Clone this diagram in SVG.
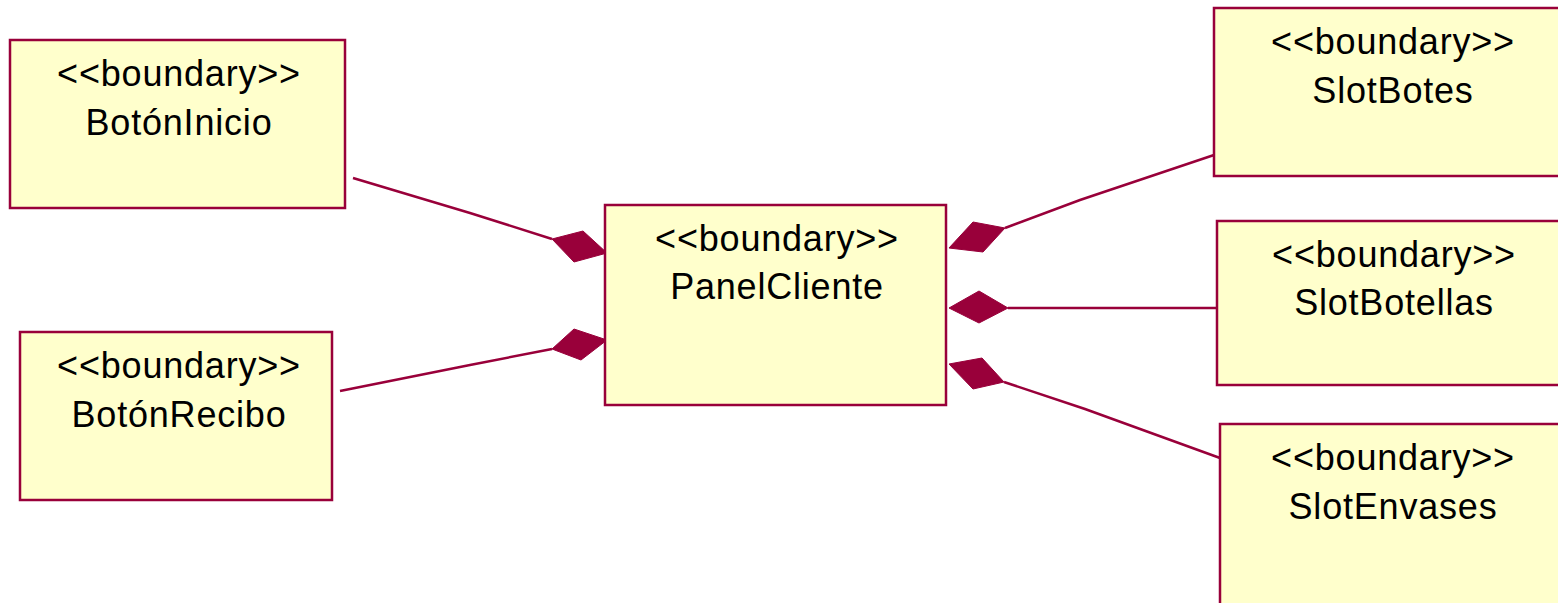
<svg xmlns="http://www.w3.org/2000/svg" width="1558" height="603" viewBox="0 0 1558 603">
<style>
.box{fill:#FFFFCC;stroke:#99003A;stroke-width:2.5}
.t{font-family:"Liberation Sans",Arial,sans-serif;font-size:36px;letter-spacing:0.8px;fill:#000;text-anchor:middle}
.ln{fill:none;stroke:#99003A;stroke-width:2.5}
.dm{fill:#99003A;stroke:#99003A;stroke-width:1}
</style>
<rect width="1558" height="603" fill="#fff"/>
<g id="connectors">
<polyline class="ln" points="353,178 470,213 552,239"/>
<polygon class="dm" points="552,239 583,231 607,253 574,262"/>
<polyline class="ln" points="340,391 470,365 552,349"/>
<polygon class="dm" points="552,349 574,329 607,340 581,360"/>
<polyline class="ln" points="1005,228 1080,200 1214,155"/>
<polygon class="dm" points="949,248 973,222 1005,228 983,252"/>
<polyline class="ln" points="1008,308 1217,308"/>
<polygon class="dm" points="949,308 979,291 1008,308 979,323"/>
<polyline class="ln" points="1004,382 1085,409 1220,458"/>
<polygon class="dm" points="949,364 982,358 1004,382 973,389"/>
</g>
<g id="BotonInicio">
<rect class="box" x="10" y="40" width="335" height="168"/>
<text class="t" x="179" y="86">&lt;&lt;boundary&gt;&gt;</text>
<text class="t" x="179" y="135">BotónInicio</text>
</g>
<g id="BotonRecibo">
<rect class="box" x="20" y="332" width="312" height="168"/>
<text class="t" x="179" y="378">&lt;&lt;boundary&gt;&gt;</text>
<text class="t" x="179" y="427">BotónRecibo</text>
</g>
<g id="PanelCliente">
<rect class="box" x="605" y="205" width="341" height="200"/>
<text class="t" x="777" y="251">&lt;&lt;boundary&gt;&gt;</text>
<text class="t" x="777" y="299">PanelCliente</text>
</g>
<g id="SlotBotes">
<rect class="box" x="1214" y="8" width="356" height="168"/>
<text class="t" x="1393" y="54">&lt;&lt;boundary&gt;&gt;</text>
<text class="t" x="1393" y="103">SlotBotes</text>
</g>
<g id="SlotBotellas">
<rect class="box" x="1217" y="221" width="352" height="164"/>
<text class="t" x="1394" y="267">&lt;&lt;boundary&gt;&gt;</text>
<text class="t" x="1394" y="315">SlotBotellas</text>
</g>
<g id="SlotEnvases">
<rect class="box" x="1220" y="424" width="346" height="200"/>
<text class="t" x="1393" y="470">&lt;&lt;boundary&gt;&gt;</text>
<text class="t" x="1393" y="519">SlotEnvases</text>
</g>
</svg>
